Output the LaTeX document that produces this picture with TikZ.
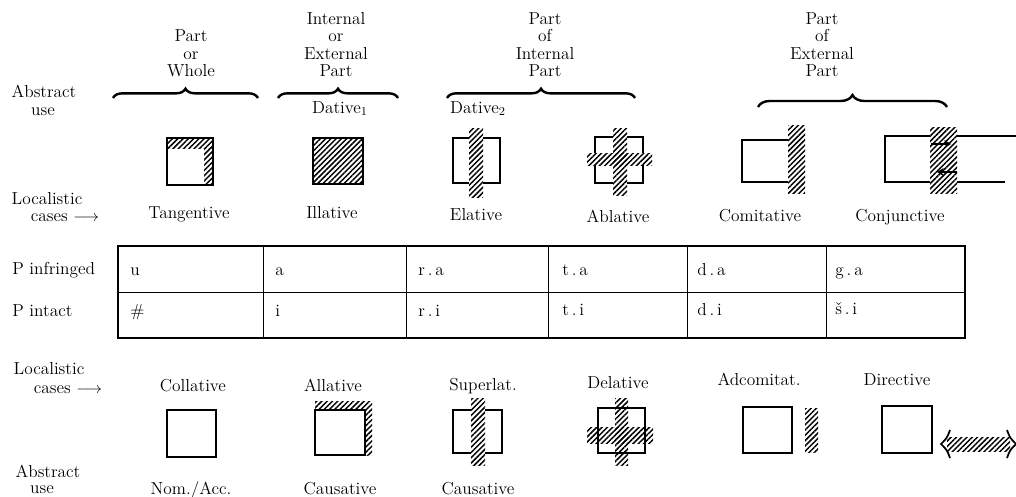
\documentclass[tikz,border=0pt]{standalone}
\usetikzlibrary{patterns.meta,decorations.pathreplacing,arrows.meta}
\begin{document}
\begin{tikzpicture}[x=0.75pt,y=-0.75pt,
  txt/.style={font=\fontsize{13}{13}\selectfont, inner sep=0pt, anchor=base},
  hdr/.style={font=\fontsize{13}{13}\selectfont, inner sep=0pt, align=center, anchor=south},
  hatch/.style={pattern={Lines[angle=45,distance=2.8pt,line width=1.1pt]}},
  ol/.style={draw, line width=1.3pt},
  brc/.style={decorate, decoration={brace, amplitude=#1}, line width=1.8pt},
  brc/.default=7pt,
  tline/.style={line width=0.6pt},
  cell/.style={txt, anchor=base west}]
\useasboundingbox (0,0) rectangle (1016,496);

% headers
\node[hdr] (h1) at (191,77) {Part\\or\\Whole};
\node[hdr] (h2) at (336,77) {Internal\\or\\External\\Part};
\node[hdr] (h3) at (545,77) {Part\\of\\Internal\\Part};
\node[hdr] (h4) at (822,77) {Part\\of\\External\\Part};

% braces
\draw[brc] (113,98) -- (258,98);
\draw[brc] (278,98) -- (398,98);
\draw[brc] (447,98) -- (635,98);
\draw[brc=9pt] (758,107) -- (947,107);

\node[txt] (d1) at (340,113) {Dative$_1$};
\node[txt] (d2) at (478,113) {Dative$_2$};

% left labels
\node[txt] (abs1) at (44,97) {Abstract};
\node[txt] (use1) at (43,115) {use};
\node[txt] (loc1) at (47,204) {Localistic};
\node[txt] (cas1) at (65,221) {cases $\longrightarrow$};
\node[cell] (pinf) at (12,274) {P infringed};
\node[cell] (pint) at (12,316) {P intact};
\node[txt] (loc2) at (49,374) {Localistic};
\node[txt] (cas2) at (68,393) {cases $\longrightarrow$};
\node[txt] (abs2) at (48,477) {Abstract};
\node[txt] (use2) at (42,493) {use};

% top icons
% Tangentive
\fill[hatch] (167,138) rectangle (213,148);
\fill[hatch] (204,148) rectangle (213,185);
\draw[ol] (167,138) rectangle (213,185);
% Illative
\draw[ol,hatch] (313,138) rectangle (363,184);
% Elative
\draw[ol] (453,138) rectangle (500,183);
\fill[white] (469,128) rectangle (483,197);
\fill[hatch] (469,128) rectangle (483,197);
% Ablative
\draw[ol] (595,137) rectangle (643,183);
\fill[white] (613,128) rectangle (627,195);
\fill[white] (587,153) rectangle (652,165);
\fill[hatch] (613,128) rectangle (627,195);
\fill[hatch] (587,153) rectangle (652,165);
% Comitative
\draw[ol] (788,140) -| (742,182) -- (788,182);
\fill[hatch] (788,125) rectangle (805,193);
% Conjunctive
\draw[ol] (930,136) -| (885,182) -- (930,182);
\fill[hatch] (930,127) rectangle (957,193);
\draw[ol] (957,136) -- (1016,136);
\draw[ol] (957,182) -- (1005,182);
\draw[line width=1.6pt,-{Stealth[length=5pt,width=6pt]}] (931,144) -- (951,144);
\draw[line width=1.6pt,-{Stealth[length=5pt,width=6pt]}] (957,172) -- (937,172);

% top labels
\node[txt] (tan) at (189,218) {Tangentive};
\node[txt] (ill) at (332,218) {Illative};
\node[txt] (ela) at (476,220) {Elative};
\node[txt] (abl) at (618,222) {Ablative};
\node[txt] (com) at (760,221) {Comitative};
\node[txt] (con) at (900,221) {Conjunctive};

% table
\draw[line width=1pt] (118,246) rectangle (965,338);
\draw[tline] (118,292) -- (965,292);
\foreach \x in {263,406,548,687,826} \draw[tline] (\x,246) -- (\x,338);
\node[cell] (c11) at (130,275) {u};
\node[cell] (c12) at (275,275) {a};
\node[cell] (c13) at (418,275) {r\,.\,a};
\node[cell] (c14) at (562,275) {t\,.\,a};
\node[cell] (c15) at (697,275) {d\,.\,a};
\node[cell] (c16) at (835,275) {g\,.\,a};
\node[cell] (c21) at (130,316) {\#};
\node[cell] (c22) at (275,316) {i};
\node[cell] (c23) at (418,316) {r\,.\,i};
\node[cell] (c24) at (562,315) {t\,.\,i};
\node[cell] (c25) at (697,315) {d\,.\,i};
\node[cell] (c26) at (835,314) {š\,.\,i};

% bottom labels
\node[txt] (col) at (193,391) {Collative};
\node[txt] (all) at (333,391) {Allative};
\node[txt] (sup) at (483,390) {Superlat.};
\node[txt] (del) at (618,388) {Delative};
\node[txt] (adc) at (759,385) {Adcomitat.};
\node[txt] (dir) at (897,385) {Directive};

% bottom icons
% Collative
\draw[ol] (167,410) rectangle (216,457);
% Allative
\fill[hatch] (315,401) rectangle (372,410);
\fill[hatch] (365,410) rectangle (372,455);
\draw[ol] (315,410) rectangle (365,455);
% Superlat
\draw[ol] (453,410) rectangle (502,453);
\fill[white] (471,398) rectangle (485,465);
\fill[hatch] (471,398) rectangle (485,465);
% Delative
\draw[ol] (598,408) rectangle (645,453);
\fill[hatch] (615,398) rectangle (628,465);
\fill[hatch] (587,427) rectangle (653,443);
% Adcomitat
\draw[ol] (743,407) rectangle (792,453);
\fill[hatch] (805,408) rectangle (818,452);
% Directive
\draw[ol] (882,406) rectangle (932,453);
\fill[hatch] (947,437) rectangle (1010,451);
\draw[line width=1.3pt] (950,430) .. controls (947,438) .. (941,444) .. controls (947,450) .. (950,458);
\draw[line width=1.3pt] (1007,430) .. controls (1010,438) .. (1016,444) .. controls (1010,450) .. (1007,458);

% bottom abstract
\node[txt] (nom) at (191,494) {Nom./Acc.};
\node[txt] (cau1) at (340,494) {Causative};
\node[txt] (cau2) at (478,494) {Causative};
\end{tikzpicture}
\end{document}
